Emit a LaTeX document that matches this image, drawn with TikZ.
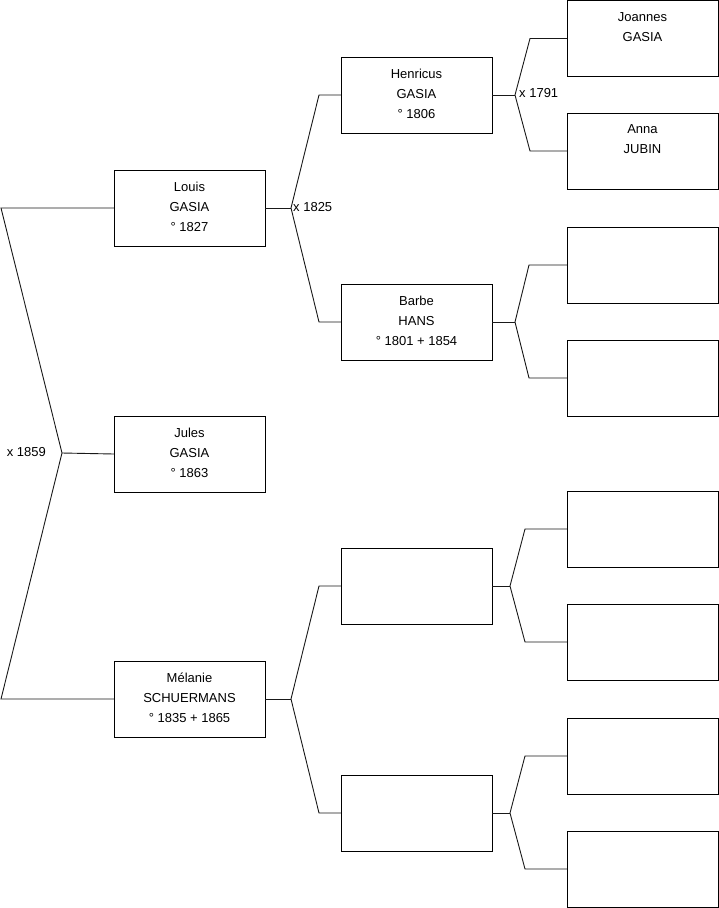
\documentclass[tikz,border=0pt]{standalone}
\usepackage{fontspec}
\setmainfont{Liberation Sans}
\begin{document}
\begin{tikzpicture}[x=1pt,y=-1pt,
  box/.style={draw=black, line width=0.9pt, minimum width=151pt, minimum height=76pt, inner sep=0pt, outer sep=0pt, anchor=north west},
  link/.style={draw=black!90, line width=0.9pt},
  lbl/.style={font=\fontsize{13}{20}\selectfont, inner sep=0pt},
  who/.style={label={[lbl, anchor=north, yshift=-11.5pt, align=center]north:{#1}}}]
\useasboundingbox[fill=white] (0,0) rectangle (719,908);
% generation 1
\node[box, who={Louis\\GASIA\\° 1827}] (louis) at (114,170) {};
\node[box, who={Jules\\GASIA\\° 1863}] (jules) at (114,416) {};
\node[box, who={Mélanie\\SCHUERMANS\\° 1835 + 1865}] (melanie) at (114,661) {};
% generation 2
\node[box, who={Henricus\\GASIA\\° 1806}] (henricus) at (341,57) {};
\node[box, who={Barbe\\HANS\\° 1801 + 1854}] (barbe) at (341,284) {};
\node[box] (mA) at (341,548) {};
\node[box] (mB) at (341,775) {};
% generation 3
\node[box, who={Joannes\\GASIA}] (joannes) at (567,0.5) {};
\node[box, who={Anna\\JUBIN}] (anna) at (567,113) {};
\node[box] (b3) at (567,227) {};
\node[box] (b4) at (567,340) {};
\node[box] (b5) at (567,491) {};
\node[box] (b6) at (567,604) {};
\node[box] (b7) at (567,718) {};
\node[box] (b8) at (567,831) {};
% left fork
\coordinate (l1) at (1,208);
\coordinate (f1) at (62,453);
\coordinate (l2) at (1,699);
\draw[link] (louis.west) -- (l1) -- (f1) -- (l2) -- (melanie.west);
\draw[link] (f1) -- (jules.west);
\node[lbl, anchor=east] (m1859) at (46,452) {x 1859};
% Louis fork
\coordinate (f2) at (291,208);
\coordinate (u2) at (319,95);
\coordinate (d2) at (319,322);
\draw[link] (louis.east) -- (f2);
\draw[link] (henricus.west) -- (u2) -- (f2) -- (d2) -- (barbe.west);
\node[lbl, anchor=west] (m1825) at (293,207) {x 1825};
% Melanie fork
\coordinate (f3) at (291,699);
\coordinate (u3) at (319,586);
\coordinate (d3) at (319,813);
\draw[link] (melanie.east) -- (f3);
\draw[link] (mA.west) -- (u3) -- (f3) -- (d3) -- (mB.west);
% Henricus fork
\coordinate (f4) at (515,95);
\coordinate (u4) at (530,38.5);
\coordinate (d4) at (530,151);
\draw[link] (henricus.east) -- (f4);
\draw[link] (joannes.west) -- (u4) -- (f4) -- (d4) -- (anna.west);
\node[lbl, anchor=west] (m1791) at (519,93) {x 1791};
% Barbe fork
\coordinate (f5) at (515,322);
\coordinate (u5) at (529,265);
\coordinate (d5) at (529,378);
\draw[link] (barbe.east) -- (f5);
\draw[link] (b3.west) -- (u5) -- (f5) -- (d5) -- (b4.west);
% mA fork
\coordinate (f6) at (510,586);
\coordinate (u6) at (525,529);
\coordinate (d6) at (525,642);
\draw[link] (mA.east) -- (f6);
\draw[link] (b5.west) -- (u6) -- (f6) -- (d6) -- (b6.west);
% mB fork
\coordinate (f7) at (510,813);
\coordinate (u7) at (525,756);
\coordinate (d7) at (525,869);
\draw[link] (mB.east) -- (f7);
\draw[link] (b7.west) -- (u7) -- (f7) -- (d7) -- (b8.west);
\end{tikzpicture}
\end{document}
